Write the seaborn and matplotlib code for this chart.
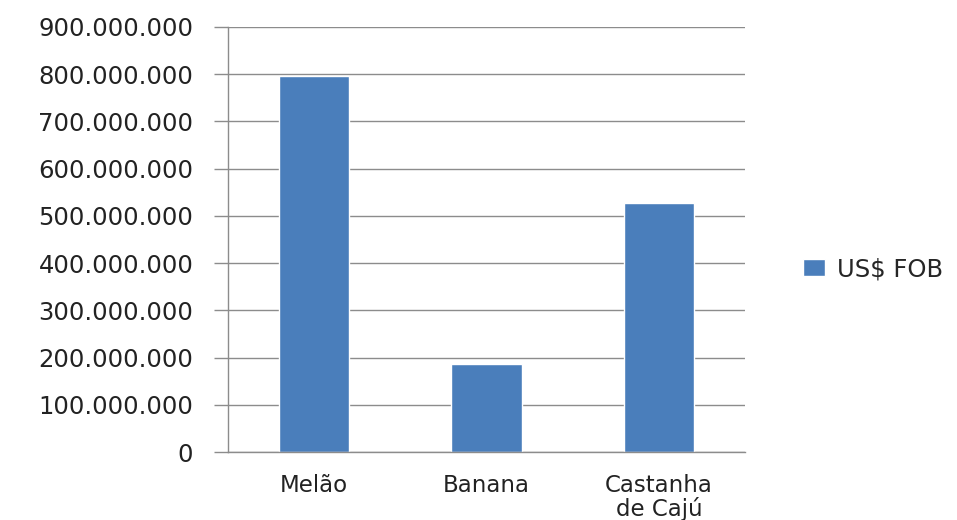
import matplotlib
matplotlib.use('Agg')
import matplotlib.pyplot as plt
import seaborn as sns
import numpy as np

# dados
produtos = ['Melão', 'Banana', 'Castanha\nde Cajú']
valores_fob = [796000000, 186000000, 527000000]
serie = 'US$ FOB'
yticks = np.arange(0, 900000001, 100000000)

sns.set_style('white')
plt.rcParams['font.family'] = ['DejaVu Sans']

fig = plt.figure(figsize=(9.57, 5.2), dpi=100)
ax = fig.add_axes([228/957, 1-452/520, (745-228)/957, (452-27)/520])

sns.barplot(x=produtos, y=valores_fob, color='#4A7EBB', width=0.41,
            label=serie, ax=ax, saturation=1)

ax.set_ylim(0, 900000000)
ax.set_xlim(-0.5, 2.5)
ax.set_yticks(yticks)
ax.set_yticklabels(['0' if v == 0 else f'{int(v):,}'.replace(',', '.') for v in yticks],
                   fontsize=17.5, color='#222222')
ax.yaxis.grid(True, color='#8C8C8C', linewidth=1)
ax.set_axisbelow(True)

# marcas entre categorias
ax.set_xticks([-0.5, 0.5, 1.5, 2.5], minor=True)
ax.tick_params(axis='x', which='minor', length=7, color='#8C8C8C', width=1)
ax.tick_params(axis='x', which='major', length=0, labelsize=16.5, labelcolor='#222222', pad=16)
for lbl in ax.get_xticklabels():
    lbl.set_linespacing(1.0)
ax.tick_params(axis='y', length=10, color='#8C8C8C', width=1, pad=15)
ax.tick_params(axis='y', left=True)

for s in ['top', 'right']:
    ax.spines[s].set_visible(False)
for s in ['left', 'bottom']:
    ax.spines[s].set_color('#8C8C8C')
    ax.spines[s].set_linewidth(1)

ax.legend(loc='center left', bbox_to_anchor=(1.07, 0.43), frameon=False,
          fontsize=17.5, handlelength=0.9, handleheight=0.7, handletextpad=0.5)

fig.savefig('out.png', dpi=100)
